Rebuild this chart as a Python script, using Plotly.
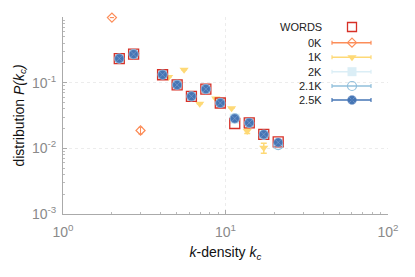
import plotly.graph_objects as go

# ---------------- data ----------------
k_words = [2.22, 2.72, 4.10, 5.04, 6.17, 7.57, 9.29, 11.4, 14.0, 17.2, 21.1]
p_words = [0.233, 0.272, 0.132, 0.0923, 0.062, 0.080, 0.049, 0.0239, 0.0245, 0.0163, 0.0125]

k_0k = [2.0, 3.0]
p_0k = [0.98, 0.0187]
e_0k = [0.0, 0.0022]

k_1k = [2.25, 2.78, 4.47, 5.56, 6.94, 8.71, 10.9, 13.6, 17.2]
p_1k = [0.226, 0.262, 0.122, 0.157, 0.0476, 0.0573, 0.0408, 0.0183, 0.0102]
e_1k = [0.0, 0.0, 0.0, 0.0, 0.0, 0.0, 0.0, 0.0015, 0.0018]

k_2k = [2.22, 2.72, 4.10, 5.04, 6.17, 7.57, 9.29, 11.4, 14.0, 17.2, 21.1]
p_2k = [0.236, 0.276, 0.135, 0.094, 0.063, 0.081, 0.050, 0.0283, 0.0248, 0.0164, 0.0118]

k_21k = [2.22, 2.72, 4.10, 5.04, 6.17, 7.57, 9.29, 11.4, 14.0, 17.2, 21.1]
p_21k = [0.232, 0.272, 0.133, 0.093, 0.062, 0.080, 0.049, 0.0285, 0.0243, 0.0160, 0.0112]

k_25k = [2.22, 2.72, 4.10, 5.04, 6.17, 7.57, 9.29, 11.4, 14.0, 17.2, 21.1]
p_25k = [0.233, 0.272, 0.132, 0.0923, 0.062, 0.080, 0.049, 0.0285, 0.0245, 0.0163, 0.0123]

x_tickvals = [1, 10, 100]
x_ticktext = ["10<sup>0</sup>", "10<sup>1</sup>", "10<sup>2</sup>"]
y_tickvals = [0.001, 0.01, 0.1, 1]
y_ticktext = ["10<sup>-3</sup>", "10<sup>-2</sup>", "10<sup>-1</sup>", "10<sup>0</sup>"]

legend_names = ["WORDS", "0K", "1K", "2K", "2.1K", "2.5K"]

# ---------------- styles ----------------
C_RED = "#d73027"
C_OR = "#fc8d59"
C_YE = "#fed976"
C_2K = "#dbeef6"
C_21 = "#91bfdb"
C_25 = "#4575b4"
C_25_LINE = "#8eaad6"

# page offset from default HTML body margin
OFF = 8
PAGE_W, PAGE_H = 415, 277
PL, PR, PT, PB = 63, 388, 17, 214   # plot area in page pixels
W, H = PAGE_W - OFF, PAGE_H - OFF
L, T = PL - OFF, PT - OFF
R, B = W - (PR - OFF), H - (PB - OFF)
PW, PH = PR - PL, PB - PT

def fx(px):
    return (px - PL) / PW

def fy(py):
    return (PB - py) / PH

fig = go.Figure()

fig.add_trace(go.Scatter(x=k_2k, y=p_2k, mode="markers", showlegend=False,
                         marker=dict(symbol="square", size=10, color=C_2K, line=dict(width=0)),
                         cliponaxis=False))
fig.add_trace(go.Scatter(x=k_1k, y=p_1k, mode="markers", showlegend=False,
                         error_y=dict(type="data", array=e_1k, color=C_YE, thickness=1.5, width=3),
                         marker=dict(symbol="triangle-down", size=8, color=C_YE, line=dict(width=0)),
                         cliponaxis=False))
fig.add_trace(go.Scatter(x=k_0k, y=p_0k, mode="markers", showlegend=False,
                         error_y=dict(type="data", array=e_0k, color=C_OR, thickness=1, width=2),
                         marker=dict(symbol="diamond-open", size=7, color=C_OR, line=dict(width=1.2)),
                         cliponaxis=False))
fig.add_trace(go.Scatter(x=k_words, y=p_words, mode="markers", showlegend=False,
                         marker=dict(symbol="square-open", size=10, color=C_RED, line=dict(width=1.3)),
                         cliponaxis=False))
fig.add_trace(go.Scatter(x=k_21k, y=p_21k, mode="markers", showlegend=False,
                         marker=dict(symbol="circle-open", size=9, color=C_21, line=dict(width=1.2)),
                         cliponaxis=False))
fig.add_trace(go.Scatter(x=k_25k, y=p_25k, mode="markers", showlegend=False,
                         marker=dict(symbol="circle-x", size=9, color=C_25,
                                     line=dict(width=0.5, color=C_25_LINE)),
                         cliponaxis=False))

# ---------------- manual legend ----------------
leg_rows_py = [27, 42.7, 57.3, 71.7, 86, 100]
leg_colors = [C_RED, C_OR, C_YE, C_2K, C_21, C_25]
leg_symbols = ["square-open", "diamond-open", "triangle-down", "square", "circle-open", "circle-x"]
leg_sizes = [9, 7, 8, 9, 9, 9]
text_right_px = 324
line_x0_px, line_x1_px, sym_px = 332, 371, 352

shapes = [dict(type="rect", xref="paper", yref="paper",
               x0=fx(283), x1=fx(370), y0=fy(108), y1=fy(12),
               fillcolor="white", line=dict(width=0), layer="below")]
annotations = []
for i, name in enumerate(legend_names):
    py = leg_rows_py[i]
    annotations.append(dict(text=name, xref="paper", yref="paper", x=fx(text_right_px), y=fy(py),
                            xanchor="right", yanchor="middle", showarrow=False,
                            font=dict(size=11, color="#222")))
    if i > 0:
        col = leg_colors[i]
        shapes.append(dict(type="line", xref="paper", yref="paper",
                           x0=fx(line_x0_px), x1=fx(line_x1_px), y0=fy(py), y1=fy(py),
                           line=dict(color=col, width=1.5)))
        for cx in (line_x0_px, line_x1_px):
            shapes.append(dict(type="line", xref="paper", yref="paper",
                               x0=fx(cx), x1=fx(cx), y0=fy(py - 2), y1=fy(py + 2),
                               line=dict(color=col, width=1.2)))
    mline = dict(width=1.3 if i == 0 else (1.2 if leg_symbols[i].endswith("open") else 0))
    if leg_symbols[i] == "circle-x":
        mline = dict(width=0.5, color=C_25_LINE)
    fig.add_trace(go.Scatter(x=[fx(sym_px)], y=[fy(py)], xaxis="x2", yaxis="y2",
                             mode="markers", showlegend=False, hoverinfo="skip",
                             marker=dict(symbol=leg_symbols[i], size=leg_sizes[i],
                                         color=leg_colors[i], line=mline),
                             cliponaxis=False))

axis_common = dict(
    type="log", automargin=False,
    showline=True, linecolor="#aaaaaa", linewidth=1,
    ticks="inside", ticklen=4, tickcolor="#aaaaaa",
    tickfont=dict(family="Liberation Sans, Arial, sans-serif", size=14, color="#8a8a8a"),
    showgrid=True, gridcolor="#ececec", griddash="dot", gridwidth=1,
    zeroline=False,
    minor=dict(ticks="inside", ticklen=2, tickcolor="#bbbbbb", dtick="D1", showgrid=False),
)

fig.update_layout(
    width=W, height=H,
    margin=dict(l=L, r=R, t=T, b=B),
    paper_bgcolor="white", plot_bgcolor="white",
    font=dict(family="Liberation Sans, Arial, sans-serif", color="#222"),
    showlegend=False,
    xaxis=dict(axis_common, range=[0, 2], tickvals=x_tickvals, ticktext=x_ticktext,
               ticklabelstandoff=5,
               title=dict(text="<i>k</i>-density <i>k<sub>c</sub></i>", font=dict(size=14, color="#111"),
                          standoff=8)),
    yaxis=dict(axis_common, range=[-3, 0], tickvals=y_tickvals, ticktext=y_ticktext,
               ticklabelstandoff=3,
               title=dict(text="distribution <i>P(k<sub>c</sub>)</i>", font=dict(size=14, color="#111"),
                          standoff=4)),
    xaxis2=dict(overlaying="x", range=[0, 1], visible=False),
    yaxis2=dict(overlaying="y", range=[0, 1], visible=False),
    shapes=shapes,
    annotations=annotations,
)

fig.write_html("out.html")
